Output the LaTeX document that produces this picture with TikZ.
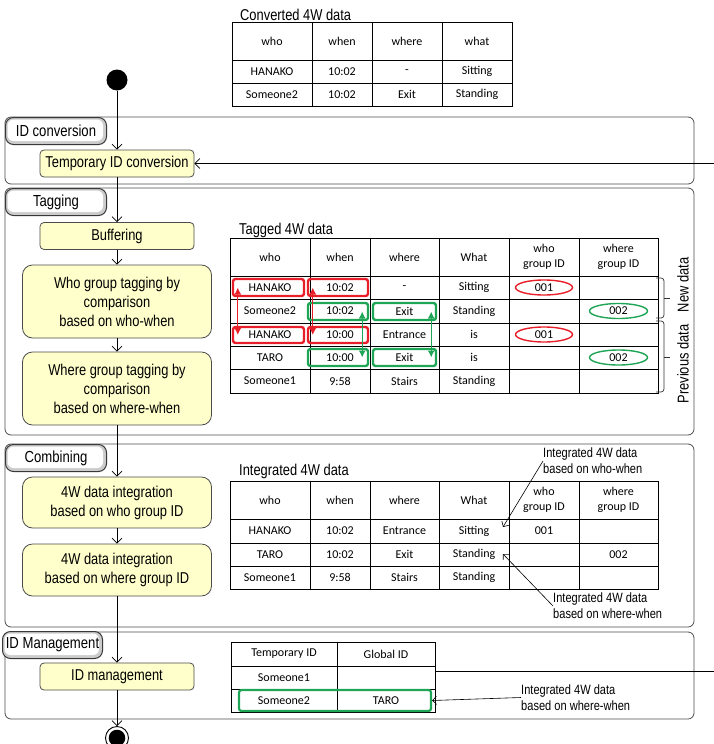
\documentclass[tikz,border=0pt]{standalone}
\usepackage{fontspec}
\setmainfont{Liberation Sans}
\newfontfamily\narrowf[FakeStretch=0.82]{Liberation Sans}
\newfontfamily\calf{Carlito}
\usetikzlibrary{arrows.meta,shapes.geometric,fit}
\definecolor{actfill}{RGB}{255,255,204}
\definecolor{redc}{RGB}{232,30,40}
\definecolor{greenc}{RGB}{30,165,85}
\newcommand\tcell[6]{\node[tcell, minimum width={(#4-#2)*1pt}, minimum height={(#5-#3)*1pt}] (#1) at ({(#2+#4)/2},{(#3+#5)/2}) {#6}}
\begin{document}
\begin{tikzpicture}[x=1pt,y=-1pt,
  lane/.style={draw=gray!60!black, line width=0.8pt, rounded corners=6pt},
  tab/.style={draw=gray!45!black, line width=1pt, rounded corners=8pt, fill=gray!40,
    minimum width=101pt, minimum height=27pt, inner sep=0pt, anchor=north west,
    font=\fontsize{16}{18}\selectfont\narrowf,
    path picture={\fill[white, rounded corners=6pt] ([shift={(2pt,-2pt)}]path picture bounding box.north west) rectangle ([shift={(-3.5pt,3.5pt)}]path picture bounding box.south east);}},
  act/.style={draw=gray!60!black, line width=0.8pt, fill=actfill, rounded corners=4pt,
    inner sep=0pt, align=center, font=\fontsize{15.7}{19}\selectfont\narrowf},
  actbig/.style={act, rounded corners=10pt, minimum width=189pt},
  flow/.style={-{Straight Barb[length=5pt,width=10pt]}, line width=0.7pt},
  tcell/.style={draw, line width=1pt, inner sep=0pt, align=center,
    font=\fontsize{12}{14.5}\selectfont\calf},
  tlabel/.style={anchor=base west, inner sep=0pt, font=\fontsize{15.7}{19}\selectfont\narrowf},
  ann/.style={anchor=west, inner sep=0pt, align=left, font=\fontsize{13.5}{16}\selectfont\narrowf},
  annarrow/.style={-{Straight Barb[length=4pt,width=8pt]}, line width=0.6pt},
  rbox/.style={draw=redc, line width=2.4pt, rounded corners=2.5pt, inner sep=0pt},
  gbox/.style={draw=greenc, line width=2.4pt, rounded corners=2.5pt, inner sep=0pt},
  rell/.style={ellipse, draw=redc, line width=1.4pt, minimum width=57pt, minimum height=15pt, inner sep=0pt, font=\fontsize{12}{14}\selectfont\calf},
  gell/.style={ellipse, draw=greenc, line width=1.4pt, minimum width=58pt, minimum height=15pt, inner sep=0pt, font=\fontsize{12}{14}\selectfont\calf},
  rdarrow/.style={{Latex[length=7pt,width=7pt]}-{Latex[length=7pt,width=7pt]}, line width=1.3pt, draw=redc},
  gdarrow/.style={{Latex[length=7pt,width=7pt]}-{Latex[length=7pt,width=7pt]}, line width=1.3pt, draw=greenc},
  bracesty/.style={line width=0.7pt, rounded corners=3pt, draw=gray!40!black},
  sidetext/.style={rotate=90, inner sep=0pt, font=\fontsize{15.7}{19}\selectfont\narrowf}
]
\useasboundingbox (0,0) rectangle (714,744);

% ---------- swimlanes ----------
\draw[lane] (5,117) rectangle (694,184);
\draw[lane] (5,188) rectangle (694,435);
\draw[lane] (5,444) rectangle (694,627);
\draw[lane] (5,632) rectangle (694,719);
\node[tab] (t1) at (5,117) {ID conversion};
\node[tab] (t2) at (5,188) {Tagging};
\node[tab] (t3) at (5,444) {Combining};
\node[tab, minimum width=100pt] (t4) at (2,631) {ID Management};

% ---------- flow ----------
\node[circle, fill=black, minimum size=21pt, inner sep=0pt] (start) at (117,80) {};
\node[act, minimum width=154pt, minimum height=27pt] (n1) at (117,163.5) {Temporary ID conversion};
\node[act, minimum width=154pt, minimum height=27pt] (n2) at (117,236) {Buffering};
\node[actbig, minimum height=73pt] (n3) at (117,301.5) {Who group tagging by\\comparison\\based on who-when};
\node[actbig, minimum height=73pt] (n4) at (117,388.5) {Where group tagging by\\comparison\\based on where-when};
\node[actbig, minimum height=51pt] (n5) at (117,502.5) {4W data integration\\based on who group ID};
\node[actbig, minimum height=52pt] (n6) at (117,570) {4W data integration\\based on where group ID};
\node[act, minimum width=154pt, minimum height=27pt] (n7) at (117,676.5) {ID management};
\node[circle, draw, line width=0.9pt, fill=white, minimum size=23pt, inner sep=0pt,
  path picture={\fill[black] (path picture bounding box.center) circle (8.3pt);}] (end) at (117,738) {};

\draw[flow] (start) -- (n1);
\draw[flow] (n1) -- (n2);
\draw[flow] (n2) -- (n3);
\draw[flow] (n3) -- (n4);
\draw[flow] (n4) -- (n5);
\draw[flow] (n5) -- (n6);
\draw[flow] (n6) -- (n7);
\draw[flow] (n7) -- (end);

\coordinate (in1) at (714,163.5);
\draw[flow] (in1) -- (n1);

% ---------- Converted 4W data ----------
\node[tlabel] (lcv) at (240,20) {Converted 4W data};
\foreach \a/\b/\t [count=\c] in {232/312/who, 312/372/when, 372/442/where, 442/512/what}
  {\tcell{cv-1-\c}{\a}{22}{\b}{60}{\t};}
\foreach \a/\b/\t [count=\c] in {232/312/HANAKO, 312/372/10:02, 372/442/-, 442/512/Sitting}
  {\tcell{cv-2-\c}{\a}{60}{\b}{83}{\t};}
\foreach \a/\b/\t [count=\c] in {232/312/Someone2, 312/372/10:02, 372/442/Exit, 442/512/Standing}
  {\tcell{cv-3-\c}{\a}{83}{\b}{106}{\t};}

% ---------- Tagged 4W data ----------
\node[tlabel] (ltg) at (239,234) {Tagged 4W data};
\foreach \a/\b/\t [count=\c] in {230/310/who, 310/370/when, 370/439/where, 439/509/What, 509/579/{who\\group ID}, 579/658/{where\\group ID}}
  {\tcell{tg-1-\c}{\a}{238}{\b}{276}{\t};}
\foreach \a/\b/\t [count=\c] in {230/310/HANAKO, 310/370/10:02, 370/439/-, 439/509/Sitting, 509/579/{}, 579/658/{}}
  {\tcell{tg-2-\c}{\a}{276}{\b}{299}{\t};}
\foreach \a/\b/\t [count=\c] in {230/310/Someone2, 310/370/10:02, 370/439/Exit, 439/509/Standing, 509/579/{}, 579/658/{}}
  {\tcell{tg-3-\c}{\a}{299}{\b}{323}{\t};}
\foreach \a/\b/\t [count=\c] in {230/310/HANAKO, 310/370/10:00, 370/439/Entrance, 439/509/is, 509/579/{}, 579/658/{}}
  {\tcell{tg-4-\c}{\a}{323}{\b}{346}{\t};}
\foreach \a/\b/\t [count=\c] in {230/310/TARO, 310/370/10:00, 370/439/Exit, 439/509/is, 509/579/{}, 579/658/{}}
  {\tcell{tg-5-\c}{\a}{346}{\b}{369}{\t};}
\foreach \a/\b/\t [count=\c] in {230/310/Someone1, 310/370/9:58, 370/439/Stairs, 439/509/Standing, 509/579/{}, 579/658/{}}
  {\tcell{tg-6-\c}{\a}{369}{\b}{393}{\t};}

\node[rell] (e1) at (tg-2-5) {001};
\node[rell] (e2) at (tg-4-5) {001};
\node[gell] (e3) at (tg-3-6) {002};
\node[gell] (e4) at (tg-5-6) {002};

\node[rbox, fit={(233,279) (304,296)}] (rb1) {};
\node[rbox, fit={(308,279) (368,296)}] (rb2) {};
\node[rbox, fit={(233,327) (304,343)}] (rb3) {};
\node[rbox, fit={(308,327) (368,343)}] (rb4) {};
\node[gbox, fit={(308,303) (368,320)}] (gb1) {};
\node[gbox, fit={(373,303) (436,320)}] (gb2) {};
\node[gbox, fit={(308,349) (368,366)}] (gb3) {};
\node[gbox, fit={(373,349) (436,366)}] (gb4) {};

\draw[rdarrow] ([xshift=6pt]rb1.west) -- ([xshift=6pt]rb3.west);
\draw[rdarrow] ([xshift=6pt]rb2.west) -- ([xshift=6pt]rb4.west);
\draw[gdarrow] ([xshift=-7pt]gb1.east) -- ([xshift=-7pt]gb3.east);
\draw[gdarrow] ([xshift=-6pt]gb2.east) -- ([xshift=-6pt]gb4.east);

% braces
\draw[bracesty] (656,278) -- (664,278) -- (664,318) -- (656,318);
\draw[bracesty] (664,298) -- (670,298);
\draw[bracesty] (656,321) -- (664,321) -- (664,392) -- (656,392);
\draw[bracesty] (664,357) -- (670,357);
\node[sidetext] (newd) at (683,285) {New data};
\node[sidetext] (prevd) at (683,364) {Previous data};

% ---------- Integrated 4W data ----------
\node[tlabel] (lin) at (239,475) {Integrated 4W data};
\foreach \a/\b/\t [count=\c] in {230/310/who, 310/370/when, 370/439/where, 439/509/What, 509/579/{who\\group ID}, 579/658/{where\\group ID}}
  {\tcell{in-1-\c}{\a}{481}{\b}{519}{\t};}
\foreach \a/\b/\t [count=\c] in {230/310/HANAKO, 310/370/10:02, 370/439/Entrance, 439/509/Sitting, 509/579/001, 579/658/{}}
  {\tcell{in-2-\c}{\a}{519}{\b}{543}{\t};}
\foreach \a/\b/\t [count=\c] in {230/310/TARO, 310/370/10:02, 370/439/Exit, 439/509/Standing, 509/579/{}, 579/658/002}
  {\tcell{in-3-\c}{\a}{543}{\b}{566}{\t};}
\foreach \a/\b/\t [count=\c] in {230/310/Someone1, 310/370/9:58, 370/439/Stairs, 439/509/Standing, 509/579/{}, 579/658/{}}
  {\tcell{in-4-\c}{\a}{566}{\b}{589}{\t};}

\node[ann] (ann1) at (543,461) {Integrated 4W data\\based on who-when};
\node[ann] (ann2) at (553,606) {Integrated 4W data\\based on where-when};
\coordinate (tw1) at (503,527);
\coordinate (tw2) at (503,554);
\draw[annarrow] (ann1.west) -- (tw1);
\draw[annarrow] (ann2.west) -- (tw2);

% ---------- ID management table ----------
\foreach \a/\b/\t [count=\c] in {231/337/Temporary ID, 337/435/Global ID}
  {\tcell{id-1-\c}{\a}{642}{\b}{666}{\t};}
\foreach \a/\b/\t [count=\c] in {231/337/Someone1, 337/435/{}}
  {\tcell{id-2-\c}{\a}{666}{\b}{689}{\t};}
\foreach \a/\b/\t [count=\c] in {231/337/Someone2, 337/435/TARO}
  {\tcell{id-3-\c}{\a}{689}{\b}{712}{\t};}
\node[gbox, line width=2.2pt, fit={(239,690) (431,711)}] (gbid) {};

\coordinate (in2) at (714,671);
\draw[line width=0.7pt] (in2 -| id-2-2.east) -- (in2);

\node[ann] (ann3) at (521,697.5) {Integrated 4W data\\based on where-when};
\draw[annarrow] (ann3.west) -- (gbid.east);
\end{tikzpicture}
\end{document}
